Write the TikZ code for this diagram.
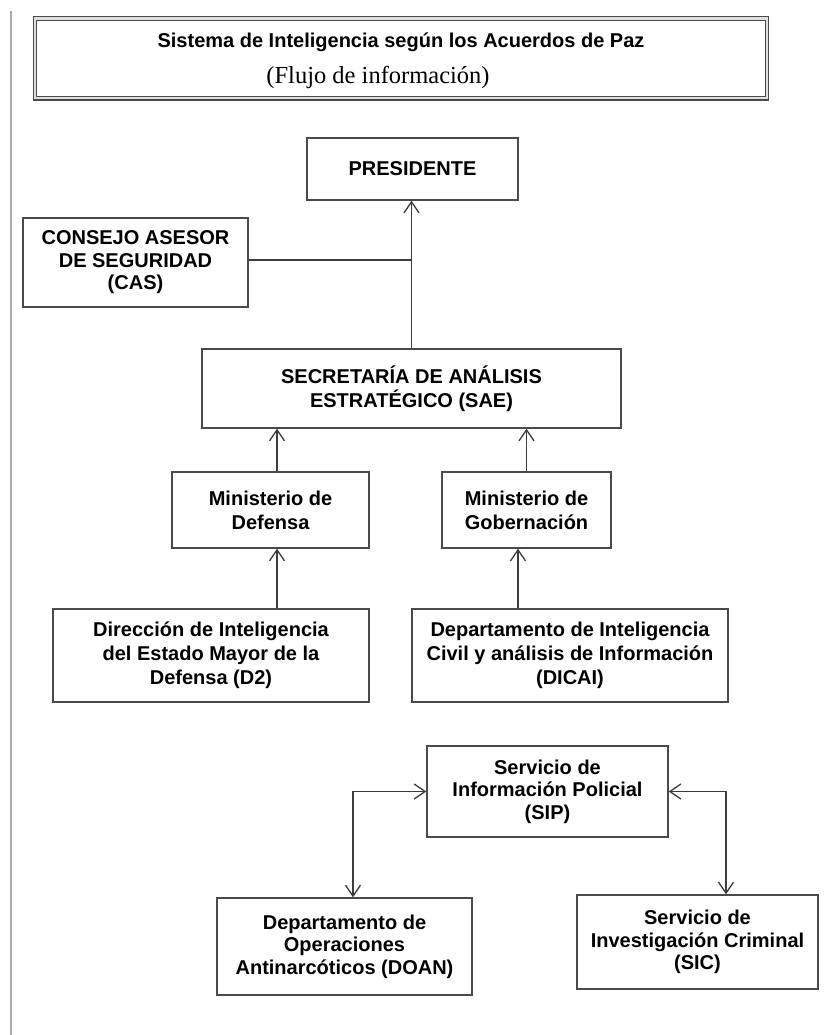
\documentclass[tikz,border=0pt]{standalone}
\usepackage{fontspec}
\setmainfont{Liberation Serif}
\setsansfont{Liberation Sans}
\usetikzlibrary{arrows.meta,calc}
\definecolor{boxgray}{HTML}{4A4A4A}
\definecolor{linegray}{HTML}{3C3C3C}
\definecolor{sidegray}{HTML}{A8A8A8}
\tikzset{
  box/.style={draw=boxgray, line width=1.4pt, rectangle, inner sep=0pt, align=center,
    font=\sffamily\bfseries\fontsize{20}{24}\selectfont},
  tightbox/.style={box, font=\sffamily\bfseries\fontsize{20}{22.5}\selectfont},
  conn/.style={draw=linegray, line width=1.3pt},
  arr/.style={conn, -{Straight Barb[length=11pt,width=15pt]}},
  twoarr/.style={conn, {Straight Barb[length=11pt,width=15pt]}-{Straight Barb[length=11pt,width=15pt]}}
}
\begin{document}
\begin{tikzpicture}[x=1pt,y=-1pt]
\useasboundingbox[fill=white] (0,0) rectangle (837,1035);
% side line
\draw[sidegray, line width=1.5pt] (11,11) -- (11,1035);
% title frame
\node[draw=boxgray, double=gray!25, double distance=2.5pt, line width=1.1pt, rectangle,
  minimum width=732, minimum height=79.5, inner sep=0pt] (title) at (401,58.5) {};
\node[anchor=base, inner sep=0pt, font=\sffamily\bfseries\fontsize{20}{22}\selectfont] (ttl1) at (401,48) {Sistema de Inteligencia según los Acuerdos de Paz};
\node[anchor=base, inner sep=0pt, font=\rmfamily\fontsize{24.5}{27}\selectfont] (ttl2) at (378,84) {(Flujo de información)};
% boxes
\node[box, minimum width=211, minimum height=62] (pres) at (412.5,169) {PRESIDENTE};
\node[tightbox, minimum width=225, minimum height=89] (cas) at (135.5,262.5) {CONSEJO ASESOR\\DE SEGURIDAD\\(CAS)};
\node[box, minimum width=419, minimum height=79] (sae) at (411.5,388.5) {SECRETARÍA DE ANÁLISIS\\ESTRATÉGICO (SAE)};
\node[box, minimum width=197, minimum height=76] (mdef) at (270.5,510) {Ministerio de\\Defensa};
\node[box, minimum width=169, minimum height=76] (mgob) at (526.5,510) {Ministerio de\\Gobernación};
\node[box, minimum width=316, minimum height=93] (d2) at (211,655.5) {Dirección de Inteligencia\\del Estado Mayor de la\\Defensa (D2)};
\node[box, minimum width=316, minimum height=93] (dicai) at (570,655.5) {Departamento de Inteligencia\\Civil y análisis de Información\\(DICAI)};
\node[tightbox, minimum width=241, minimum height=91] (sip) at (547.5,791.5) {Servicio de\\Información Policial\\(SIP)};
\node[tightbox, minimum width=255, minimum height=97] (doan) at (344.5,946.5) {Departamento de\\Operaciones\\Antinarcóticos (DOAN)};
\node[tightbox, minimum width=241, minimum height=94] (sic) at (697.5,942) {Servicio de\\Investigación Criminal\\(SIC)};
% connectors
\draw[arr] (sae.north) -- (sae.north |- pres.south);
\draw[conn] ([yshift=2.5pt]cas.east) -- ([yshift=2.5pt]cas.east -| sae.north);
\draw[arr] ([xshift=6.5pt]mdef.north) -- ([xshift=6.5pt]mdef.north |- sae.south);
\draw[arr] ([xshift=6.5pt]mdef.south |- d2.north) -- ([xshift=6.5pt]mdef.south);
\draw[arr] (mgob.north) -- (mgob.north |- sae.south);
\draw[arr] ([xshift=-8.5pt]mgob.south |- dicai.north) -- ([xshift=-8.5pt]mgob.south);
\draw[twoarr] (sip.west) -| ([xshift=8.5pt]doan.north);
\draw[twoarr] (sip.east) -| ([xshift=28.5pt]sic.north);
\end{tikzpicture}
\end{document}
